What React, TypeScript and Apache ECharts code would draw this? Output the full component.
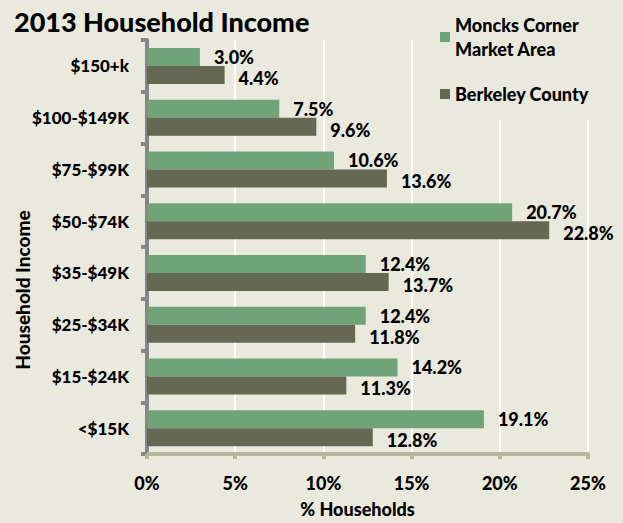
import React, { useEffect, useRef } from "react";
import * as echarts from "echarts";

const categories = ["$150+k", "$100-$149K", "$75-$99K", "$50-$74K", "$35-$49K", "$25-$34K", "$15-$24K", "<$15K"];
const moncksCorner = [3.0, 7.5, 10.6, 20.7, 12.4, 12.4, 14.2, 19.1];
const berkeleyCounty = [4.4, 9.6, 13.6, 22.8, 13.7, 11.8, 11.3, 12.8];
const xTicks = { min: 0, max: 25, interval: 5 };

const FONT = "Lato";
const W = 900;
const BG = "#eae9de";
const GREEN = "#70a377";
const DARK = "#656852";

export default function App() {
  const ref = useRef<HTMLDivElement>(null);
  useEffect(() => {
    if (!ref.current) return;
    const chart = echarts.init(ref.current, null, { renderer: "svg" });
    const labelStyle = (dy: number) => ({
      show: true,
      position: "right" as const,
      distance: 14,
      offset: [0, dy],
      fontFamily: FONT,
      fontWeight: W,
      fontSize: 18,
      lineHeight: 16,
      color: "#000",
      formatter: (p: any) => Number(p.value).toFixed(1) + "%",
    });
    chart.setOption({
      animation: false,
      backgroundColor: BG,
      textStyle: { fontFamily: FONT },
      title: {
        text: "2013 Household Income",
        left: 9,
        top: 3,
        textStyle: { fontFamily: FONT, fontWeight: W, fontSize: 27, color: "#000" },
      },
      legend: {
        orient: "vertical",
        left: 430,
        top: 1,
        padding: [0, 12, 14, 10],
        backgroundColor: BG,
        itemWidth: 10,
        itemHeight: 10,
        itemGap: 9,
        icon: "rect",
        data: [
          {
            name: "Moncks Corner Market Area",
            textStyle: { padding: [24, 0, 0, 0], lineHeight: 24 },
          },
          { name: "Berkeley County", textStyle: { lineHeight: 24 } },
        ],
        formatter: (n: string) => (n === "Moncks Corner Market Area" ? "Moncks Corner\nMarket Area" : n),
        textStyle: { fontFamily: FONT, fontWeight: W, fontSize: 18, color: "#000", lineHeight: 24 },
      },
      grid: { left: 147, right: 35, top: 40, bottom: 64, containLabel: false },
      xAxis: {
        type: "value",
        min: xTicks.min,
        max: xTicks.max,
        interval: xTicks.interval,
        name: "% Households",
        nameLocation: "middle",
        nameGap: 46,
        nameTextStyle: {
          fontFamily: FONT,
          fontWeight: W,
          fontSize: 18,
          color: "#000",
          padding: [0, 20, 0, 0],
        },
        axisLine: { show: true, lineStyle: { color: "#b5b7a0", width: 4 } },
        axisTick: { show: true, length: 5, lineStyle: { color: "#b5b7a0", width: 4 } },
        axisLabel: {
          formatter: "{value}%",
          margin: 20,
          fontFamily: FONT,
          fontWeight: W,
          fontSize: 18,
          color: "#000",
        },
        splitLine: { show: true, lineStyle: { color: "#ffffff", width: 2 } },
      },
      yAxis: {
        type: "category",
        inverse: true,
        data: categories,
        axisLine: { show: true, lineStyle: { color: "#858585", width: 4 } },
        axisTick: { show: true, length: 6, lineStyle: { color: "#858585", width: 4 } },
        axisLabel: {
          margin: 18,
          fontFamily: FONT,
          fontWeight: W,
          fontSize: 17,
          color: "#000",
        },
        splitLine: { show: false },
      },
      graphic: [
        {
          type: "text",
          x: 22,
          y: 290,
          rotation: Math.PI / 2,
          style: {
            text: "Household Income",
            fontFamily: FONT,
            fontWeight: W,
            fontSize: 19,
            fill: "#000",
            align: "center",
            verticalAlign: "middle",
          },
        },
      ],
      series: [
        {
          name: "Moncks Corner Market Area",
          type: "bar",
          data: moncksCorner,
          barWidth: 18,
          barGap: "0%",
          itemStyle: { color: GREEN },
          label: labelStyle(0),
        },
        {
          name: "Berkeley County",
          type: "bar",
          data: berkeleyCounty,
          barWidth: 18,
          barGap: "0%",
          itemStyle: { color: DARK },
          label: labelStyle(3),
        },
      ],
    });
    return () => chart.dispose();
  }, []);
  return (
    <div
      ref={ref}
      style={{ position: "fixed", left: 0, top: 0, width: 623, height: 523 }}
    />
  );
}
